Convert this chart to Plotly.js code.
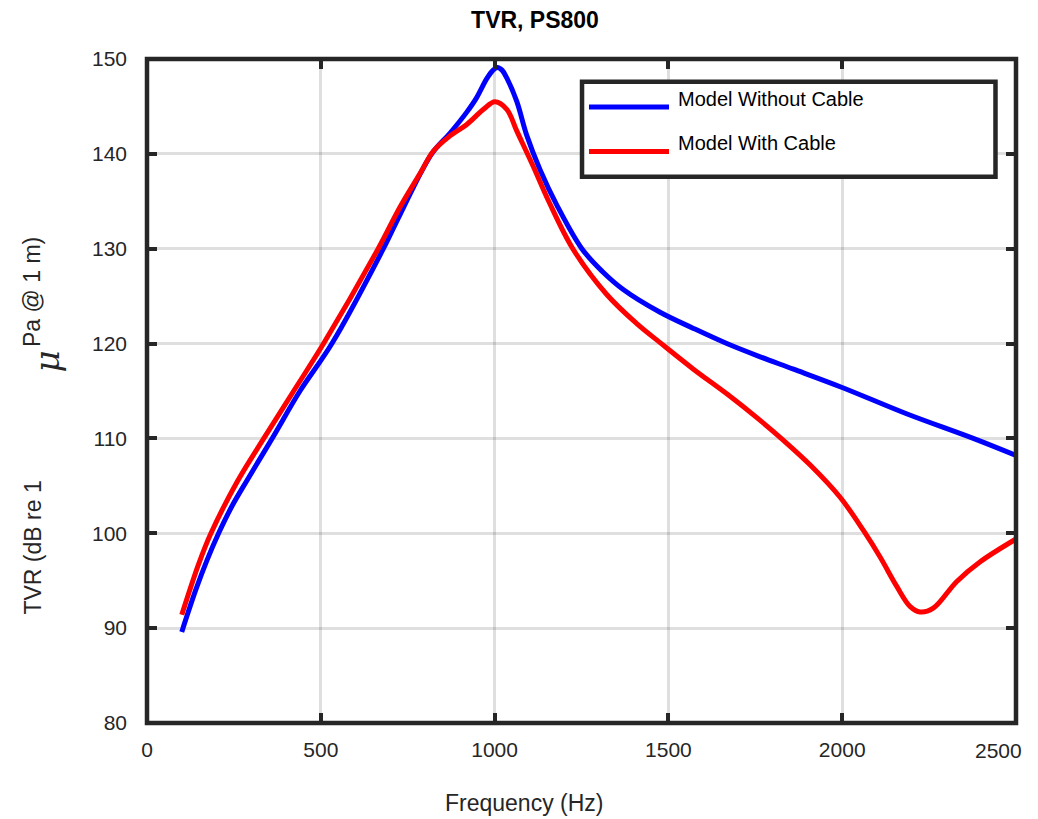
<!DOCTYPE html>
<html>
<head>
<meta charset="utf-8">
<script src="https://cdn.plot.ly/plotly-3.0.1.min.js"></script>
<style>html,body{margin:0;padding:0;background:#fff;}</style>
</head>
<body>
<div id="chart" style="width:1038px;height:819px;"></div>
<script>
// ---- data ----
const seriesNames = ["Model Without Cable", "Model With Cable"];
const seriesColors = ["#0000ff", "#ff0000"];

const freqWithout = [100, 140, 173, 206, 245, 288, 360, 441, 532, 680, 728, 819, 872, 920, 948, 977, 995, 1008, 1022, 1035, 1064, 1092, 1131, 1179, 1251, 1310, 1370, 1476, 1572, 1668, 1764, 1860, 1998, 2185, 2377, 2500];
const tvrWithout  = [89.6, 94.0, 97.2, 100.0, 102.9, 105.6, 110.0, 115.05, 120.0, 130.0, 133.6, 140.0, 142.2, 144.4, 145.9, 147.9, 148.8, 149.1, 148.8, 148.0, 145.5, 142.0, 138.3, 134.6, 130.0, 127.6, 125.7, 123.3, 121.6, 120.0, 118.6, 117.3, 115.4, 112.6, 110.0, 108.2];

const freqWith = [100, 149, 184, 259, 336, 422, 508, 665, 728, 785, 824, 872, 920, 968, 1001, 1035, 1064, 1111, 1157, 1225, 1322, 1409, 1476, 1572, 1668, 1764, 1831, 1908, 1994, 2061, 2109, 2157, 2195, 2224, 2262, 2329, 2397, 2500];
const tvrWith  = [91.4, 96.8, 100.0, 105.4, 110.0, 115.0, 120.0, 130.0, 134.4, 137.9, 140.3, 141.9, 143.1, 144.7, 145.5, 144.7, 142.4, 138.7, 134.9, 130.0, 125.2, 122.1, 120.1, 117.3, 114.7, 111.9, 109.8, 107.2, 103.8, 100.3, 97.5, 94.4, 92.3, 91.7, 92.1, 94.9, 97.0, 99.4];

const xTickVals = [0, 500, 1000, 1500, 2000, 2500];
const xTickText = ["0", "500", "1000", "1500", "2000", "2500"];
const yTickVals = [80, 90, 100, 110, 120, 130, 140, 150];
const yTickText = ["80", "90", "100", "110", "120", "130", "140", "150"];

const chartTitle = "TVR, PS800";
const xLabel = "Frequency (Hz)";
const yLabelParts = ["TVR (dB re 1", "μ", "Pa @ 1 m)"];

// ---- drawing ----
const FONT = "'Liberation Sans', Arial, Helvetica, sans-serif";
const AX = "#262626";

const xs = [freqWithout, freqWith];
const ys = [tvrWithout, tvrWith];
const traces = seriesNames.map((n, i) => ({
  type: "scatter",
  mode: "lines",
  name: n,
  x: xs[i],
  y: ys[i],
  line: {color: seriesColors[i], width: 5, shape: "spline", smoothing: 1},
  showlegend: false,
  hoverinfo: "x+y+name"
}));

// manual legend (MATLAB-style long line samples)
const legBox = {x0: 0.5006, x1: 0.9764, y0: 0.8227, y1: 0.9658};
const legLineX = [0.5086, 0.6007];
const legRowY = [0.9277, 0.8607];
const legTextY = [0.9398, 0.8735];

const shapes = [
  {type: "rect", xref: "paper", yref: "paper", x0: 0, x1: 1, y0: 0, y1: 1,
   line: {color: AX, width: 4.5}, fillcolor: "rgba(0,0,0,0)", layer: "above"},
  {type: "rect", xref: "paper", yref: "paper", x0: legBox.x0, x1: legBox.x1, y0: legBox.y0, y1: legBox.y1,
   line: {color: AX, width: 4.5}, fillcolor: "#ffffff", layer: "above"}
];
const annotations = [];
seriesNames.forEach((n, i) => {
  shapes.push({type: "line", xref: "paper", yref: "paper",
    x0: legLineX[0], x1: legLineX[1], y0: legRowY[i], y1: legRowY[i],
    line: {color: seriesColors[i], width: 5}, layer: "above"});
  annotations.push({xref: "paper", yref: "paper", x: 0.6087, y: legTextY[i],
    xanchor: "left", yanchor: "middle", showarrow: false, text: n,
    font: {family: FONT, size: 20, color: "#000"}});
});
// last x tick label: MATLAB pulls it inside the figure
const lastIdx = xTickVals.length - 1;
annotations.push({xref: "x", yref: "paper", x: xTickVals[lastIdx], y: 0,
  xanchor: "center", yanchor: "middle", xshift: -18, yshift: -27, showarrow: false,
  text: xTickText[lastIdx], font: {family: FONT, size: 21, color: AX}});
// axis titles
annotations.push({xref: "paper", yref: "paper", x: 0.4333, y: -0.1205,
  xanchor: "center", yanchor: "middle", showarrow: false, text: xLabel,
  font: {family: FONT, size: 23, color: AX}});
annotations.push({xref: "paper", yref: "paper", x: -0.1323, y: 0.2643,
  xanchor: "center", yanchor: "middle", showarrow: false, text: yLabelParts[0], textangle: -90,
  font: {family: FONT, size: 23, color: AX}});
annotations.push({xref: "paper", yref: "paper", x: -0.1151, y: 0.5444,
  xanchor: "center", yanchor: "middle", showarrow: false, text: "<i>" + yLabelParts[1] + "</i>", textangle: -90,
  font: {family: "'DejaVu Serif', 'Liberation Serif', serif", size: 34, color: AX}});
annotations.push({xref: "paper", yref: "paper", x: -0.1323, y: 0.6491,
  xanchor: "center", yanchor: "middle", showarrow: false, text: yLabelParts[2], textangle: -90,
  font: {family: FONT, size: 23, color: AX}});

const axisCommon = {
  showline: false, zeroline: false, mirror: "ticks",
  ticks: "inside", ticklen: 10, tickwidth: 4, tickcolor: AX,
  showgrid: true, gridcolor: "rgba(38,38,38,0.15)", gridwidth: 3,
  tickfont: {family: FONT, size: 21, color: AX}
};

const layout = {
  width: 1038, height: 819,
  margin: {l: 147, r: 22, t: 59, b: 96, pad: 0},
  paper_bgcolor: "#ffffff", plot_bgcolor: "#ffffff",
  showlegend: false,
  title: {text: "<b>" + chartTitle + "</b>", font: {family: FONT, size: 23, color: "#000"},
          x: 0.4465, xref: "paper", xanchor: "center", y: 1 - 20 / 819, yref: "container", yanchor: "middle"},
  xaxis: Object.assign({}, axisCommon, {range: [0, 2500],
    tickvals: xTickVals.slice(0, lastIdx), ticktext: xTickText.slice(0, lastIdx), ticklabelstandoff: 12}),
  yaxis: Object.assign({}, axisCommon, {range: [80, 150], tickvals: yTickVals, ticktext: yTickText, ticklabelstandoff: 19}),
  shapes: shapes,
  annotations: annotations
};

Plotly.newPlot("chart", traces, layout, {displayModeBar: false, staticPlot: true});
</script>
</body>
</html>
